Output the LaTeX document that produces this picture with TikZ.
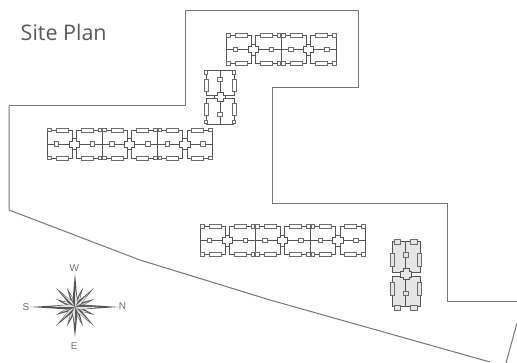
\documentclass[tikz,border=0pt]{standalone}
\usepackage{fontspec}
\setmainfont{Open Sans}
\newfontfamily\lblfont{Liberation Sans}
\definecolor{wall}{gray}{0.33}
\definecolor{fur}{gray}{0.42}
\tikzset{
  x=1pt,y=-1pt,
  site/.style={draw=wall!80!white,line width=1pt,line join=miter},
  wallline/.style={draw=wall,line width=0.85pt},
  fitbox/.style={draw=fur,line width=0.8pt,fill=white},
  greybox/.style={draw=fur,line width=0.8pt,fill=gray!20},
  modl/.pic={
    \draw[wallline] (0,-14) -- (0,14);
    \draw[wallline] (0,0) -- (22.5,0);
    \draw[wallline] (0,-14) -- (25.5,-14) -- (25.5,-3) -- (22.5,-3) -- (22.5,3) -- (25.5,3) -- (25.5,14) -- (0,14);
    \draw[wallline] (25.5,-5.5) -- (27.6,-5.5);
    \draw[wallline] (25.5,5.5) -- (27.6,5.5);
    \draw[fitbox] (0.5,-15.7) rectangle (4,-12.3);
    \draw[fitbox] (0.5,12.3) rectangle (4,15.7);
    \draw[fitbox] (9,-16) rectangle (21,-12);
    \draw[fitbox] (9,12) rectangle (21,16);
    \draw[fitbox] (7.5,-2.2) rectangle (11.8,2.2);
  },
  labeltxt/.style={font=\lblfont\fontsize{10}{12}\selectfont,text=gray!110!white,inner sep=0pt}
}
\newcommand{\aptrow}[3]{% left x, mid y, modules
  \foreach \i in {1,...,#3}{
    \pgfmathsetmacro{\xa}{#1+27.6*(\i-1)}
    \pgfmathsetmacro{\xb}{#1+27.6*\i}
    \ifodd\i
      \begin{scope}[shift={(\xa,#2)}]\pic[transform shape] {modl};\end{scope}
    \else
      \begin{scope}[shift={(\xb,#2)},xscale=-1]\pic[transform shape] {modl};\end{scope}
    \fi
  }}
\begin{document}
\begin{tikzpicture}
\useasboundingbox (0,0) rectangle (517,363);
\node[anchor=base west,inner sep=0pt,text=black!65,font=\fontsize{21.5}{24}\selectfont] (title) at (20.5,40.7) {Site Plan};
\draw[site] (9,106) -- (185,106) -- (185,11) -- (358,11) -- (358,88) -- (272,88) -- (272,204) -- (447,204) -- (447,302) -- (517,302);
\draw[site] (9,106) -- (9,210) -- (140,260) -- (270,300) -- (490,362);
\draw[site] (517,323) -- (506,363);
\aptrow{226}{49.5}{4}
\aptrow{47}{144}{6}
\aptrow{200}{240.5}{6}
\begin{scope}[shift={(220,70)},rotate=-90]\pic[transform shape] {modl};\end{scope}
\begin{scope}[shift={(220,124)},rotate=90]\pic[transform shape] {modl};\end{scope}
% grey block
\fill[gray!20,draw=wall,line width=0.85pt] (392,241.7) rectangle (420,272.3);
\fill[gray!20,draw=wall,line width=0.85pt] (392,276) rectangle (420,306.7);
\fill[gray!20,draw=wall,line width=0.85pt] (403,268) -- (409,268) -- (409,271) -- (411.5,271) -- (411.5,277) -- (409,277) -- (409,279) -- (403,279) -- (403,277) -- (400,277) -- (400,271) -- (403,271) -- cycle;
\draw[wallline] (405.8,241.7) -- (405.8,268) (405.8,279) -- (405.8,306.7);
\foreach \bx/\by in {394/239,410.7/239,394/305,410.7/305}{
  \draw[greybox] (\bx,\by) rectangle ++(6.3,5);
}
\foreach \by in {253.3,282.7}{
  \draw[greybox] (390,\by) rectangle ++(4.7,12.7);
  \draw[greybox] (416.9,\by) rectangle ++(4.7,12.7);
}
\draw[greybox] (403.3,252.7) rectangle ++(4.7,4.6);
\draw[greybox] (403.3,291) rectangle ++(4.7,4.6);
% compass
\begin{scope}[shift={(75,307)}]
\foreach \a/\r in {22.5/21,67.5/21,112.5/21,157.5/21,202.5/21,247.5/21,292.5/21,337.5/21,45/27,135/27,225/27,315/27}{
  \fill[wall] (0,0) -- ({\a+16}:7) -- (\a:\r) -- ({\a-16}:7) -- cycle;
  \fill[gray!25] (0,0) -- ({\a+16}:7) -- (\a:{0.7*\r}) -- cycle;
}
\foreach \a/\r in {0/44,90/31,180/45,270/34}{
  \fill[wall] (0,0) -- ({\a+25}:6) -- (\a:\r) -- ({\a-25}:6) -- cycle;
  \fill[gray!25] (0,0) -- ({\a+25}:6) -- (\a:{0.55*\r}) -- cycle;
}
\end{scope}
\node[labeltxt] (w) at (74.3,268.3) {W};
\node[labeltxt] (e) at (74.3,345.7) {E};
\node[labeltxt] (s) at (26,307.3) {S};
\node[labeltxt] (n) at (122.5,306) {N};
\end{tikzpicture}
\end{document}
